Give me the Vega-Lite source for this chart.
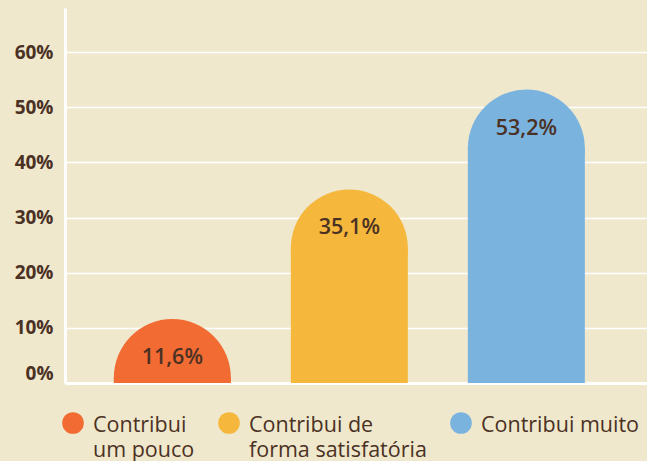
{
  "$schema": "https://vega.github.io/schema/vega-lite/v6.json",
  "width": 582,
  "height": 375,
  "autosize": {"type": "none"},
  "padding": {"left": 65, "top": 8, "right": 0, "bottom": 78},
  "background": "#efe8cd",
  "config": {"view": {"stroke": null}, "font": "Open Sans"},
  "data": {
    "values": [
      {"categoria": "Contribui um pouco", "valor": 11.6, "rotulo": "11,6%"},
      {"categoria": "Contribui de forma satisfatória", "valor": 35.1, "rotulo": "35,1%"},
      {"categoria": "Contribui muito", "valor": 53.2, "rotulo": "53,2%"}
    ]
  },
  "encoding": {
    "x": {
      "field": "categoria",
      "type": "nominal",
      "sort": null,
      "scale": {"paddingInner": 0.339, "paddingOuter": 0.3135, "align": 0.44},
      "axis": {"title": null, "labels": false, "ticks": false, "domainColor": "white", "domainWidth": 3}
    },
    "y": {
      "field": "valor",
      "type": "quantitative",
      "scale": {"domain": [0, 68], "nice": false},
      "axis": {
        "title": null,
        "values": [0, 10, 20, 30, 40, 50, 60],
        "labelExpr": "datum.value + '%'",
        "labelFlush": true,
        "labelPadding": 12,
        "labelFontSize": 19,
        "labelFontWeight": "bold",
        "labelColor": "#4b3124",
        "ticks": false,
        "grid": true,
        "gridColor": "white",
        "gridWidth": 1.5,
        "domainColor": "white",
        "domainWidth": 3
      }
    },
    "color": {
      "field": "categoria",
      "type": "nominal",
      "sort": null,
      "scale": {
        "domain": ["Contribui um pouco", "Contribui de forma satisfatória", "Contribui muito"],
        "range": ["#f26b33", "#f5b83c", "#7bb3df"]
      },
      "legend": {
        "title": null,
        "orient": "none",
        "legendX": -3,
        "legendY": 404,
        "direction": "horizontal",
        "columns": 3,
        "columnPadding": 23,
        "symbolType": "circle",
        "symbolSize": 467,
        "symbolStrokeWidth": 0,
        "symbolOpacity": 1,
        "labelFontSize": 21.5,
        "labelColor": "#4b3124",
        "labelOffset": 9,
        "labelLimit": 0,
        "labelBaseline": "top",
        "labelExpr": "datum.label == 'Contribui um pouco' ? ['Contribui', 'um pouco'] : datum.label == 'Contribui de forma satisfatória' ? ['Contribui de', 'forma satisfatória'] : [datum.label, '']",
        "encode": {"labels": {"update": {"dy": {"value": -8}, "lineHeight": {"value": 24.5}}}}
      }
    }
  },
  "layer": [
    {
      "mark": {"type": "bar", "yOffset": 58.5, "clip": true}
    },
    {
      "mark": {"type": "point", "shape": "circle", "filled": true, "opacity": 1, "strokeWidth": 0, "size": 13689, "yOffset": 58.5, "clip": true}
    },
    {
      "mark": {"type": "text", "baseline": "middle", "dy": 39, "fontSize": 21.5, "fontWeight": 600, "color": "#4b3124"},
      "encoding": {"text": {"field": "rotulo"}, "color": {"value": "#4b3124"}}
    }
  ]
}
